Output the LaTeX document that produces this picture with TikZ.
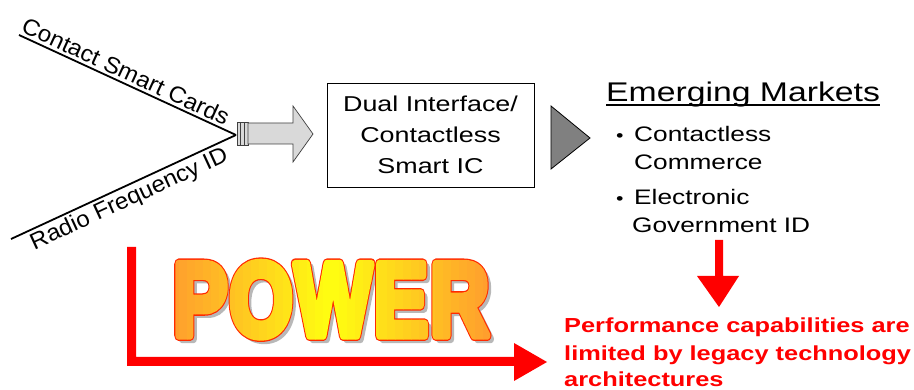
\documentclass[tikz,border=0pt]{standalone}
\usepackage{fontspec}
\setmainfont[FakeStretch=1.25]{Liberation Sans}
\newfontfamily\slopefont[FakeStretch=1.05]{Liberation Sans}
\newfontfamily\powerfill[FakeBold=8]{Liberation Sans Bold}
\newfontfamily\poweredge[FakeBold=10.5]{Liberation Sans Bold}

\definecolor{blockgray}{HTML}{D9D9D9}
\definecolor{rimgray}{HTML}{404040}
\definecolor{pointergray}{HTML}{808080}
\definecolor{alertred}{HTML}{FF0000}
\definecolor{flameorange}{HTML}{FF9630}
\definecolor{flameyellow}{HTML}{FFFF10}
\definecolor{powerrim}{HTML}{FF2A00}
\definecolor{powershade}{HTML}{B8B8B8}

% the big word, padded symmetrically round the middle of its capitals
\newcommand\powerword[1]{\scalebox{0.78}[1]{#1\fontsize{104}{110}\selectfont
  P\kern3pt O\kern3pt W\kern3pt E\kern3pt R}}
\newcommand\powerbox[1]{\hbox{\kern12pt\vrule width0pt height89pt depth15pt\powerword{#1}\kern12pt}}

\begin{document}
\begin{tikzpicture}[x=1pt, y=-1pt,
  feedline/.style={line width=1.8pt, draw=black},
  lbl/.style={font=\slopefont\fontsize{23}{26}\selectfont, inner sep=2.5pt},
  icbox/.style={draw=black, line width=0.9pt, minimum width=207pt, minimum height=104pt,
    align=center, inner sep=0pt, font=\fontsize{21.5}{31}\selectfont},
  blockpart/.style={fill=blockgray, draw=rimgray, line width=0.7pt},
  pointer/.style={fill=pointergray, draw=black, line width=0.8pt},
  market/.style={anchor=base west, inner sep=0pt, font=\fontsize{21}{25}\selectfont},
  dot/.style={anchor=base west, inner sep=0pt, font=\fontsize{17}{20}\selectfont},
  alert/.style={anchor=base west, inner sep=0pt, text=alertred,
    font=\fontsize{20.3}{24}\selectfont\bfseries},
  redarrow/.style={fill=alertred, draw=none},
  powerlayer/.style={inner sep=0pt, anchor=center}]
\useasboundingbox (0,0) rectangle (914,390);

% two technologies converging
\coordinate (cs) at (19,35);
\coordinate (rf) at (11,239);
\coordinate (apex) at (236,135);
\draw[feedline] (cs) -- node[lbl, sloped, above, pos=0.47] (cslabel) {Contact Smart Cards} (apex);
\draw[feedline] (rf) -- node[lbl, sloped, below, pos=0.5] (rflabel) {Radio Frequency ID} (apex);

% coupler rings and block arrow
\draw[blockpart] (237,122) rectangle (240.5,145);
\draw[blockpart] (240.5,122) rectangle (244,145);
\draw[blockpart] (244,122) rectangle (248,145);
\draw[blockpart] (248,123) -- (293,123) -- (293,106) -- (313,134)
  -- (293,162) -- (293,144) -- (248,144) -- cycle;

% the chip
\node[icbox] (ic) at (430.5,135) {Dual Interface/\\Contactless\\Smart IC};

% pointer to the markets
\draw[pointer] (551,106) -- (590,138) -- (551,169) -- cycle;

% markets list
\node[anchor=base west, inner sep=0pt, font=\fontsize{27}{32}\selectfont] (em) at (606,102) {Emerging Markets};
\draw[line width=1.5pt] ([yshift=-3pt]em.base west) -- ([yshift=-3pt]em.base east);
\node[dot] (b1) at (616,142) {•};
\node[market] (m1) at (634,142) {Contactless};
\node[market] (m2) at (634,170) {Commerce};
\node[dot] (b2) at (616,205) {•};
\node[market] (m3) at (634,205) {Electronic};
\node[market] (m4) at (632,233) {Government ID};

% downward red arrow
\fill[redarrow] (715,240) -- (723,240) -- (723,276) -- (739,276) -- (719,307)
  -- (697,276) -- (715,276) -- cycle;

% red L-shaped arrow
\fill[redarrow] (127,247) -- (136,247) -- (136,357) -- (514,357) -- (514,343)
  -- (547,362) -- (514,381) -- (514,366) -- (127,366) -- cycle;

% POWER: soft shadow, red rim, then the fill in narrow bands from orange to yellow
\coordinate (pw) at (331,298.5);
\begin{scope}[line join=round]
  \node[powerlayer, text=powershade] (powershadow) at (334.5,302) {\powerbox\powerfill};
  \node[powerlayer, text=powerrim] (powerrimtext) at (pw) {\powerbox\poweredge};
  \foreach \i in {0,...,43} {
    \pgfmathsetmacro\xa{155+\i*8}
    \pgfmathsetmacro\pct{max(0,100*(1-abs(\xa+4-331)/170))}
    \colorlet{bandcolor}{flameyellow!\pct!flameorange}
    \begin{scope}
      \clip (\xa,235) rectangle (\xa+8.3,365);
      \node[powerlayer, text=bandcolor] (powerband\i) at (pw) {\powerbox\powerfill};
    \end{scope}
  }
\end{scope}

% conclusion
\node[alert] (c1) at (564,333) {Performance capabilities are};
\node[alert] (c2) at (564,361) {limited by legacy technology};
\node[alert] (c3) at (564,387) {architectures};
\end{tikzpicture}
\end{document}
